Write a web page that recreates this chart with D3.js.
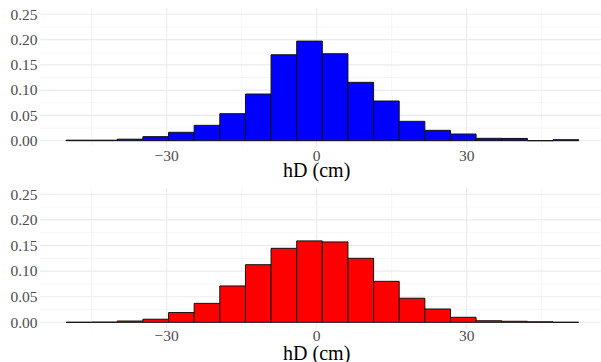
<!DOCTYPE html>
<meta charset="utf-8">
<html>
<script src="https://d3js.org/d3.v7.min.js"></script>
<style>
  body { margin: 0; background: #fff; }
</style>
<body>
<div id="my_dataviz"></div>
<script>

    // histogram bins (cm), lower edge of each bin plus final upper edge
    const binEdges = [-50.14, -45.01, -39.89, -34.76, -29.63, -24.51, -19.38, -14.25, -9.13, -4.00,
                      1.12, 6.25, 11.38, 16.50, 21.63, 26.76, 31.88, 37.01, 42.14, 47.26, 52.39]

    // density per bin, upper plot (blue)
    const densTop = [0.001, 0.001, 0.003, 0.008, 0.0166, 0.0304, 0.0534, 0.0923, 0.170, 0.197,
                     0.172, 0.1154, 0.0785, 0.0383, 0.0205, 0.0132, 0.0047, 0.0045, 0, 0.002]

    // density per bin, lower plot (red)
    const densBottom = [0, 0.0003, 0.0025, 0.006, 0.019, 0.037, 0.071, 0.1125, 0.1445, 0.159,
                        0.157, 0.125, 0.080, 0.047, 0.026, 0.0098, 0.003, 0.002, 0.001, 0]

    const xMajor = [-30, 0, 30]
    const xMinor = [-45, -15, 15, 45]
    const yMajor = [0, 0.05, 0.10, 0.15, 0.20, 0.25]
    const yMinor = [0.025, 0.075, 0.125, 0.175, 0.225]
    const xTitle = "hD (cm)"

    const width = 601, height = 362

    const svg = d3.select("#my_dataviz")
      .append("svg")
        .attr("width", width)
        .attr("height", height)
        .attr("font-family", "Liberation Serif")

    // x scale shared by both plots (5 px per cm)
    const x = d3.scaleLinear()
      .domain([-55.34, 57.5])
      .range([40, 40 + 112.84 * 5])

    function drawPanel(dens, fill, y0, y25, tickBase, titleBase) {
      const y = d3.scaleLinear().domain([0, 0.25]).range([y0, y25])
      const g = svg.append("g")
      const top = y(0.2625), bottom = y(-0.0125)

      // minor grid
      g.selectAll(".vminor").data(xMinor).join("line")
        .attr("x1", d => x(d)).attr("x2", d => x(d))
        .attr("y1", top).attr("y2", bottom)
        .attr("stroke", "#f0f0f0").attr("stroke-width", 0.6)
      g.selectAll(".hminor").data(yMinor).join("line")
        .attr("x1", x.range()[0]).attr("x2", width)
        .attr("y1", d => y(d)).attr("y2", d => y(d))
        .attr("stroke", "#f0f0f0").attr("stroke-width", 0.6)

      // major grid
      g.selectAll(".vmajor").data(xMajor).join("line")
        .attr("x1", d => x(d)).attr("x2", d => x(d))
        .attr("y1", top).attr("y2", bottom)
        .attr("stroke", "#ebebeb").attr("stroke-width", 1.1)
      g.selectAll(".hmajor").data(yMajor).join("line")
        .attr("x1", x.range()[0]).attr("x2", width)
        .attr("y1", d => y(d)).attr("y2", d => y(d))
        .attr("stroke", "#ebebeb").attr("stroke-width", 1.1)

      // bars as closed paths so empty bins still show a line
      g.selectAll(".bar").data(dens).join("path")
        .attr("d", (d, i) => {
          const x0 = x(binEdges[i]), x1 = x(binEdges[i + 1])
          return `M${x0},${y(0)}V${y(d)}H${x1}V${y(0)}Z`
        })
        .attr("fill", fill)
        .attr("stroke", "#111")
        .attr("stroke-width", 1)

      // y tick labels
      g.selectAll(".ylab").data(yMajor).join("text")
        .attr("x", 37.5)
        .attr("y", d => y(d))
        .attr("dy", "0.34em")
        .attr("text-anchor", "end")
        .style("font-family", "Liberation Serif")
        .style("font-size", "15.5px")
        .attr("fill", "#4d4d4d")
        .text(d3.format(".2f"))

      // x tick labels
      g.selectAll(".xlab").data(xMajor).join("text")
        .attr("x", d => x(d))
        .attr("y", tickBase)
        .attr("text-anchor", "middle")
        .style("font-family", "Liberation Serif")
        .style("font-size", "15.5px")
        .attr("fill", "#4d4d4d")
        .text(d3.format("d"))

      // x title
      g.append("text")
        .attr("x", x(0))
        .attr("y", titleBase)
        .attr("text-anchor", "middle")
        .style("font-family", "Liberation Serif")
        .style("font-size", "20px")
        .attr("fill", "#000")
        .text(xTitle)
    }

    drawPanel(densTop, "#0000ff", 140.7, 14.3, 160.7, 176.5)
    drawPanel(densBottom, "#ff0000", 322.3, 194.3, 340.7, 359.5)

</script>
</body>
</html>
